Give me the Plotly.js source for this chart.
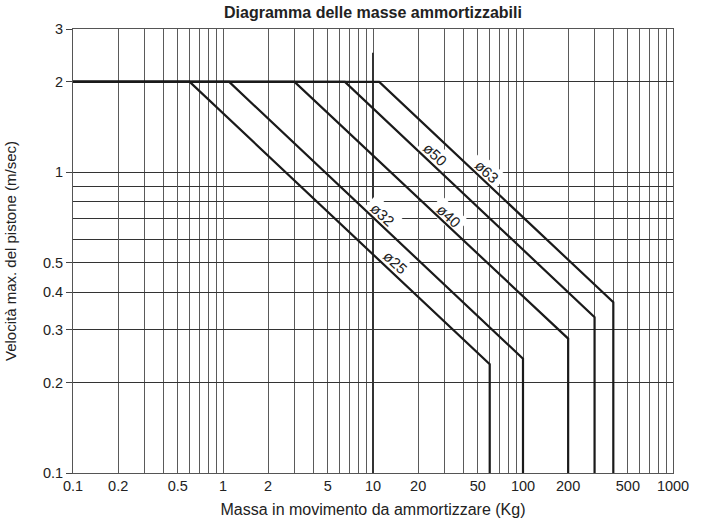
<!DOCTYPE html>
<html>
<head>
<meta charset="utf-8">
<script src="https://cdn.plot.ly/plotly-3.0.1.min.js"></script>
<style>html,body{margin:0;padding:0;background:#fff;}#chart{width:702px;height:522px;}</style>
</head>
<body>
<div id="chart"></div>
<script>
// Data
const bores = ['ø25', 'ø32', 'ø40', 'ø50', 'ø63'];
const vMax = 2;                                  // m/s plateau
const massStart = 0.1;                           // kg, left end of the plateau
const massAtVmax = [0.6, 1.1, 3, 6.5, 11];       // kg where the curve leaves 2 m/s
const massMax = [60, 100, 200, 300, 400];        // kg, vertical limit
const vAtMassMax = [0.23, 0.24, 0.28, 0.33, 0.37]; // m/s at the knee
const vFloor = 0.1;
// label anchor positions (data coordinates)
const labelMass = [14.1, 11.6, 31.9, 26.0, 57.5];
const labelVel = [0.50, 0.727, 0.719, 1.146, 1.008];
// reference line at 10 kg
const guideMass = [10, 10];
const guideVel = [0.1, 2.5];

const xTickVals = [0.1, 0.2, 0.5, 1, 2, 5, 10, 20, 50, 100, 200, 500, 1000];
const xTickText = ['0.1', '0.2', '0.5', '1', '2', '5', '10', '20', '50', '100', '200', '500', '1000'];
const xMinorVals = [0.3, 0.4, 0.6, 0.7, 0.8, 0.9, 3, 4, 6, 7, 8, 9, 30, 40, 60, 70, 80, 90, 300, 400, 600, 700, 800, 900];
const yTickVals = [0.1, 0.2, 0.3, 0.4, 0.5, 1, 2, 3];
const yTickText = ['0.1', '0.2', '0.3', '0.4', '0.5', '1', '2', '3'];
const yMinorVals = [0.6, 0.7, 0.8, 0.9];

const FONT = 'Liberation Sans, Arial, Helvetica, sans-serif';
const LABEL_ANGLE = 43;

const traces = [];
bores.forEach((b, i) => {
  traces.push({
    x: [massStart, massAtVmax[i], massMax[i], massMax[i]],
    y: [vMax, vMax, vAtMassMax[i], vFloor],
    mode: 'lines', type: 'scatter', name: b,
    line: {color: '#1a1a1a', width: 2.2},
    showlegend: false
  });
});

const annotations = bores.map((b, i) => ({
  x: Math.log10(labelMass[i]), y: Math.log10(labelVel[i]),
  xref: 'x', yref: 'y', text: b, showarrow: false,
  textangle: LABEL_ANGLE, font: {family: FONT, size: 15, color: '#222'}
}));

// white masks behind labels: cut gridlines only (drawn between grid and traces)
function maskPath(halfW, halfH, angDeg) {
  const t = angDeg * Math.PI / 180;
  const ux = Math.cos(t), uy = -Math.sin(t);
  const nx = Math.sin(t), ny = Math.cos(t);
  const pts = [[1, 1], [1, -1], [-1, -1], [-1, 1]].map(([a, b]) =>
    [a * halfW * ux + b * halfH * nx, a * halfW * uy + b * halfH * ny]);
  return 'M' + pts.map(p => p[0].toFixed(2) + ',' + p[1].toFixed(2)).join('L') + 'Z';
}
const shapes = [{
  type: 'line', layer: 'between', xref: 'x', yref: 'y',
  x0: guideMass[0], x1: guideMass[1], y0: guideVel[0], y1: guideVel[1],
  line: {color: '#333', width: 2}
}].concat(bores.map((b, i) => ({
  type: 'path', layer: 'between',
  xref: 'x', yref: 'y', xsizemode: 'pixel', ysizemode: 'pixel',
  xanchor: labelMass[i], yanchor: labelVel[i],
  path: maskPath(18, 10, LABEL_ANGLE),
  fillcolor: '#ffffff', line: {width: 0}
})));

const layout = {
  width: 702, height: 522,
  margin: {l: 73, r: 29, t: 29, b: 49},
  paper_bgcolor: '#fff', plot_bgcolor: '#fff',
  font: {family: FONT, size: 14, color: '#222'},
  title: {
    text: '<b>Diagramma delle masse ammortizzabili</b>',
    font: {family: FONT, size: 16, color: '#222'},
    x: 0.5, xref: 'paper', y: 1 - 12 / 522, yref: 'container', yanchor: 'middle'
  },
  xaxis: {
    type: 'log', range: [-1, 3],
    tickmode: 'array', tickvals: xTickVals, ticktext: xTickText,
    ticks: '', showgrid: true, gridcolor: '#5a5a5a', gridwidth: 1,
    minor: {tickmode: 'array', tickvals: xMinorVals, showgrid: true, gridcolor: '#5a5a5a', gridwidth: 1, ticks: ''},
    showline: true, linecolor: '#555', linewidth: 1, mirror: true,
    zeroline: false, tickfont: {family: FONT, size: 14.5, color: '#222'},
    title: {text: 'Massa in movimento da ammortizzare (Kg)', font: {family: FONT, size: 16, color: '#222'}, standoff: 10},
    automargin: false
  },
  yaxis: {
    type: 'log', range: [-1, Math.log10(3)],
    tickmode: 'array', tickvals: yTickVals, ticktext: yTickText,
    ticks: 'outside', ticklen: 6, tickcolor: '#444',
    showgrid: true, gridcolor: '#333', gridwidth: 1,
    minor: {tickmode: 'array', tickvals: yMinorVals, showgrid: true, gridcolor: '#333', gridwidth: 1, ticks: ''},
    showline: true, linecolor: '#555', linewidth: 1, mirror: true,
    zeroline: false, tickfont: {family: FONT, size: 14.5, color: '#222'},
    title: {text: 'Velocità max. del pistone (m/sec)', font: {family: FONT, size: 15, color: '#222'}, standoff: 22},
    automargin: false
  },
  annotations: annotations,
  shapes: shapes
};

Plotly.newPlot('chart', traces, layout, {staticPlot: true, displayModeBar: false});
</script>
</body>
</html>
